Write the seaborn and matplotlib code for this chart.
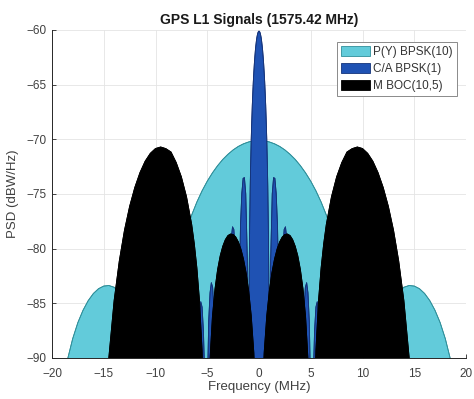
import matplotlib
matplotlib.use("Agg")
import matplotlib.pyplot as plt
import seaborn as sns
import pandas as pd

# ---------------- data ----------------
py_freq = [-20.0, -19.0, -18.5, -18.0, -17.5, -17.0, -16.5, -16.0, -15.5, -15.0, -14.5, -14.0,
           -13.5, -13.0, -12.5, -12.0, -11.5, -11.0, -10.23, -9.5, -9.0, -8.5, -8.0, -7.5,
           -7.0, -6.5, -6.0, -5.5, -5.0, -4.5, -4.0, -3.5, -3.0, -2.5, -2.0, -1.5, -1.0, -0.5,
           0.0, 0.5, 1.0, 1.5, 2.0, 2.5, 3.0, 3.5, 4.0, 4.5, 5.0, 5.5, 6.0, 6.5, 7.0, 7.5, 8.0,
           8.5, 9.0, 9.5, 10.23, 11.0, 11.5, 12.0, 12.5, 13.0, 13.5, 14.0, 14.5, 15.0, 15.5,
           16.0, 16.5, 17.0, 17.5, 18.0, 18.5, 19.0, 20.0]
py_psd = [-100.0, -92.70, -90.13, -88.23, -86.76, -85.63, -84.75, -84.10, -83.66, -83.42, -83.37,
          -83.53, -83.93, -84.60, -85.63, -87.16, -89.46, -93.30, -110.0, -92.50, -87.59, -84.32,
          -81.90, -79.92, -78.29, -76.91, -75.73, -74.71, -73.83, -73.07, -72.41, -71.84, -71.37,
          -70.97, -70.65, -70.41, -70.24, -70.13,
          -70.10, -70.13, -70.24, -70.41, -70.65, -70.97, -71.37, -71.84, -72.41, -73.07, -73.83,
          -74.71, -75.73, -76.91, -78.29, -79.92, -81.90, -84.32, -87.59, -92.50, -110.0, -93.30,
          -89.46, -87.16, -85.63, -84.60, -83.93, -83.53, -83.37, -83.42, -83.66, -84.10, -84.75,
          -85.63, -86.76, -88.23, -90.13, -92.70, -100.0]

ca_freq = [-7.161, -6.905, -6.777, -6.650, -6.522, -6.394, -6.138,
           -5.882, -5.754, -5.627, -5.499, -5.371, -5.115,
           -5.013, -4.859, -4.731, -4.604, -4.476, -4.348, -4.194, -4.092,
           -3.990, -3.836, -3.708, -3.581, -3.453, -3.325, -3.171, -3.069,
           -2.967, -2.813, -2.685, -2.558, -2.430, -2.302, -2.148, -2.046,
           -1.944, -1.790, -1.662, -1.535, -1.407, -1.279, -1.125, -1.023,
           -1.0, -0.95, -0.9, -0.85, -0.8, -0.75, -0.7, -0.65, -0.6, -0.55, -0.5, -0.45, -0.4,
           -0.35, -0.3, -0.25, -0.2, -0.15, -0.1, -0.05,
           0.0, 0.05, 0.1, 0.15, 0.2, 0.25, 0.3, 0.35, 0.4, 0.45, 0.5, 0.55, 0.6, 0.65, 0.7,
           0.75, 0.8, 0.85, 0.9, 0.95, 1.0,
           1.023, 1.125, 1.279, 1.407, 1.535, 1.662, 1.790, 1.944,
           2.046, 2.148, 2.302, 2.430, 2.558, 2.685, 2.813, 2.967,
           3.069, 3.171, 3.325, 3.453, 3.581, 3.708, 3.836, 3.990,
           4.092, 4.194, 4.348, 4.476, 4.604, 4.731, 4.859, 5.013,
           5.115, 5.371, 5.499, 5.627, 5.754, 5.882,
           6.138, 6.394, 6.522, 6.650, 6.777, 6.905, 7.161]
ca_psd = [-96.0, -89.64, -87.16, -86.30, -86.82, -88.97, -96.0,
          -88.25, -85.74, -84.85, -85.34, -87.46, -96.0,
          -94.05, -86.59, -84.04, -83.11, -83.55, -85.62, -92.50, -96.0,
          -92.06, -84.53, -81.92, -80.92, -81.30, -83.29, -90.07, -96.0,
          -89.49, -81.84, -79.12, -78.00, -78.25, -80.10, -86.69, -96.0,
          -85.82, -77.91, -74.95, -73.57, -73.50, -74.99, -81.07, -96.0,
          -92.90, -82.60, -77.69, -74.32, -71.90, -69.92, -68.29, -66.91, -65.73, -64.71,
          -63.83, -63.07, -62.41, -61.84, -61.37, -60.97, -60.65, -60.41, -60.24, -60.13,
          -60.10, -60.13, -60.24, -60.41, -60.65, -60.97, -61.37, -61.84, -62.41, -63.07,
          -63.83, -64.71, -65.73, -66.91, -68.29, -69.92, -71.90, -74.32, -77.69, -82.60, -92.90,
          -96.0, -81.07, -74.99, -73.50, -73.57, -74.95, -77.91, -85.82,
          -96.0, -86.69, -80.10, -78.25, -78.00, -79.12, -81.84, -89.49,
          -96.0, -90.07, -83.29, -81.30, -80.92, -81.92, -84.53, -92.06,
          -96.0, -92.50, -85.62, -83.55, -83.11, -84.04, -86.59, -94.05,
          -96.0, -87.46, -85.34, -84.85, -85.74, -88.25,
          -96.0, -88.97, -86.82, -86.30, -87.16, -89.64, -96.0]

boc_freq = [-15.345, -14.75, -14.5, -14.0, -13.5, -13.0, -12.5, -12.0, -11.5, -11.0, -10.5,
            -10.0, -9.5, -9.0, -8.5, -8.0, -7.5, -7.0, -6.5, -6.25, -6.0, -5.75, -5.5, -5.25,
            -5.115, -5.0, -4.75, -4.5, -4.25, -4.0, -3.75, -3.5, -3.25, -3.0, -2.75, -2.5,
            -2.25, -2.0, -1.75, -1.5, -1.25, -1.0, -0.75, -0.5, -0.25,
            0.0, 0.25, 0.5, 0.75, 1.0, 1.25, 1.5, 1.75, 2.0, 2.25, 2.5, 2.75, 3.0, 3.25, 3.5,
            3.75, 4.0, 4.25, 4.5, 4.75, 5.0, 5.115, 5.25, 5.5, 5.75, 6.0, 6.25, 6.5, 7.0, 7.5,
            8.0, 8.5, 9.0, 9.5, 10.0, 10.5, 11.0, 11.5, 12.0, 12.5, 13.0, 13.5, 14.0, 14.5,
            14.75, 15.345]
boc_psd = [-120.0, -93.50, -89.87, -84.76, -81.13, -78.32, -76.13, -74.40, -73.04, -72.00,
           -71.28, -70.84, -70.70, -70.85, -71.16, -72.12, -73.43, -75.26, -77.80, -79.55,
           -81.77, -84.74, -89.27, -98.50, -120.0, -100.2, -90.42, -86.21, -83.67, -81.91,
           -80.66, -79.78, -79.17, -78.80, -78.66, -78.70, -78.93, -79.37, -80.03, -80.95,
           -82.18, -83.84, -86.13, -89.50, -95.43,
           -120.0, -95.43, -89.50, -86.13, -83.84, -82.18, -80.95, -80.03, -79.37, -78.93,
           -78.70, -78.66, -78.80, -79.17, -79.78, -80.66, -81.91, -83.67, -86.21, -90.42,
           -100.2, -120.0, -98.50, -89.27, -84.74, -81.77, -79.55, -77.80, -75.26, -73.43,
           -72.12, -71.16, -70.85, -70.70, -70.84, -71.28, -72.00, -73.04, -74.40, -76.13,
           -78.32, -81.13, -84.76, -89.87, -93.50, -120.0]

labels = ["P(Y) BPSK(10)", "C/A BPSK(1)", "M BOC(10,5)"]
x_ticks = [-20, -15, -10, -5, 0, 5, 10, 15, 20]
y_ticks = [-90, -85, -80, -75, -70, -65, -60]

# ---------------- styling ----------------
sns.set_theme(style="whitegrid")
plt.rcParams["font.family"] = ["Liberation Sans", "DejaVu Sans"]

fig = plt.figure(figsize=(4.74, 3.99), dpi=100)
ax = fig.add_axes([52 / 474, 1 - 358 / 399, (466 - 52) / 474, (358 - 30) / 399])

series = [
    (py_freq, py_psd, "#62cbda", "#2f8f9a"),
    (ca_freq, ca_psd, "#1f52b3", "#14337a"),
    (boc_freq, boc_psd, "#000000", "#000000"),
]
for i, ((f, v, fc, ec), lab) in enumerate(zip(series, labels)):
    df = pd.DataFrame({"f": f, "v": v})
    ax.fill_between(df["f"], df["v"], -130, facecolor=fc, edgecolor=ec,
                    linewidth=0.6, label=lab, zorder=2 + 2 * i)
    sns.lineplot(data=df, x="f", y="v", ax=ax, color=ec, linewidth=0.6,
                 sort=False, estimator=None, zorder=3 + 2 * i, legend=False)

ax.set_xlim(-20, 20)
ax.set_ylim(-90, -60)
ax.set_xticks(x_ticks)
ax.set_yticks(y_ticks)
ax.grid(True, color="#e4e4e4", linewidth=0.6, zorder=0)
ax.set_axisbelow(True)
for s in ["top", "right"]:
    ax.spines[s].set_visible(False)
for s in ["left", "bottom"]:
    ax.spines[s].set_visible(True)
    ax.spines[s].set_color("#262626")
    ax.spines[s].set_linewidth(0.7)
    ax.spines[s].set_zorder(20)
ax.tick_params(direction="in", length=3, width=0.6, colors="#262626",
               labelcolor="#404040", labelsize=8.5, left=True, bottom=True)
ax.tick_params(axis="x", pad=7)
ax.tick_params(axis="y", pad=4)

ax.set_title("GPS L1 Signals (1575.42 MHz)", fontsize=10, fontweight="bold",
             color="#1a1a1a", pad=4)
ax.set_xlabel("Frequency (MHz)", fontsize=9.5, color="#404040", labelpad=1)
ax.set_ylabel("PSD (dBW/Hz)", fontsize=9.5, color="#404040", labelpad=5)

leg = ax.legend(loc="upper right", bbox_to_anchor=(0.978, 0.963), fontsize=8.5,
                frameon=True, fancybox=False, edgecolor="#8a8a8a", framealpha=1,
                handlelength=2.45, handleheight=0.95, borderpad=0.35,
                labelspacing=0.4, handletextpad=0.25, borderaxespad=0)
leg.get_frame().set_linewidth(0.7)
leg.set_zorder(30)
for t in leg.get_texts():
    t.set_color("#333333")

fig.savefig("out.png", dpi=100)
